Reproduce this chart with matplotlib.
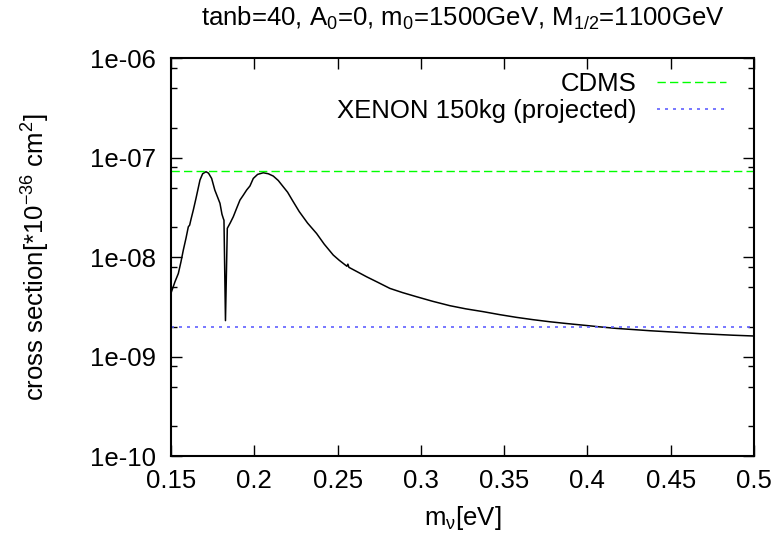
import numpy as np
import matplotlib
matplotlib.use('Agg')
import matplotlib.pyplot as plt
from matplotlib.ticker import FixedLocator, FuncFormatter, NullFormatter

# fonts: Arial-like everywhere, mathtext too (subscripts / superscripts)
plt.rcParams['font.family'] = ['Liberation Sans', 'DejaVu Sans']
plt.rcParams['mathtext.fontset'] = 'custom'
plt.rcParams['mathtext.rm'] = 'Liberation Sans'
plt.rcParams['mathtext.it'] = 'Liberation Sans'
plt.rcParams['mathtext.default'] = 'regular'
FS = 18.5

# neutrino mass [eV] and cross section [10^-36 cm^2]
m_nu = [0.1500, 0.1524, 0.1544, 0.1560, 0.1574, 0.1590, 0.1604, 0.1612,
        0.1620, 0.1634, 0.1650, 0.1674, 0.1690, 0.1710, 0.1725, 0.1744,
        0.1763, 0.1780, 0.1794, 0.1806, 0.1814, 0.1818, 0.1827, 0.1838,
        0.1855, 0.1874, 0.1894, 0.1914, 0.1934, 0.1954, 0.1974, 0.1994,
        0.2020, 0.2054, 0.2084, 0.2114, 0.2144, 0.2174, 0.2200, 0.2230,
        0.2270, 0.2320, 0.2374, 0.2420, 0.2474, 0.2510, 0.2556, 0.2562,
        0.2568, 0.2620, 0.2674, 0.2740, 0.2814, 0.2890, 0.2974, 0.3070,
        0.3174, 0.3270, 0.3374, 0.3474, 0.3574, 0.3674, 0.3774, 0.3874,
        0.3974, 0.4074, 0.4174, 0.4274, 0.4374, 0.4474, 0.4574, 0.4674,
        0.4774, 0.4874, 0.5000]
sigma = [4.35e-9, 5.66e-9, 6.85e-9, 9.0e-9, 1.18e-8, 1.55e-8, 2.02e-8, 2.1e-8,
         2.4e-8, 2.98e-8, 3.9e-8, 5.97e-8, 6.9e-8, 7.23e-8, 7.0e-8, 6.19e-8,
         4.73e-8, 4.0e-8, 3.48e-8, 2.7e-8, 2.45e-8, 2.35e-8, 2.3e-9, 1.95e-8,
         2.2e-8, 2.55e-8, 3.1e-8, 3.75e-8, 4.2e-8, 4.73e-8, 5.2e-8, 6.19e-8,
         6.8e-8, 7.06e-8, 6.9e-8, 6.54e-8, 5.9e-8, 5.1e-8, 4.5e-8, 3.7e-8,
         2.87e-8, 2.2e-8, 1.73e-8, 1.35e-8, 1.05e-8, 9.3e-9, 8.1e-9, 8.5e-9,
         7.9e-9, 7.1e-9, 6.35e-9, 5.6e-9, 4.85e-9, 4.4e-9, 4.0e-9, 3.6e-9,
         3.25e-9, 3.02e-9, 2.83e-9, 2.64e-9, 2.48e-9, 2.35e-9, 2.24e-9, 2.15e-9,
         2.07e-9, 1.99e-9, 1.92e-9, 1.87e-9, 1.82e-9, 1.78e-9, 1.74e-9, 1.70e-9,
         1.67e-9, 1.64e-9, 1.61e-9]

# experimental limits
cdms_limit = 7.4e-8
xenon_limit = 2.0e-9

x_ticks = [0.15, 0.2, 0.25, 0.3, 0.35, 0.4, 0.45, 0.5]
x_ticklabels = ['0.15', '0.2', '0.25', '0.3', '0.35', '0.4', '0.45', '0.5']
y_ticks = [1e-10, 1e-9, 1e-8, 1e-7, 1e-6]
y_minor = [m * d for d in [1e-10, 1e-9, 1e-8, 1e-7] for m in (2, 5, 8)]

W, H = 780, 535
fig = plt.figure(figsize=(W / 100, H / 100), dpi=100)
ax = fig.add_axes([171 / W, 1 - 456 / H, 583 / W, 397.7 / H])

ax.plot(m_nu, sigma, color='black', lw=1.1)
ax.axhline(cdms_limit, color='#00ff00', lw=1.0, dashes=(6, 3), label='CDMS')
ax.axhline(xenon_limit, color='#6060ff', lw=1.2, dashes=(1.8, 3.0),
           label='XENON 150kg (projected)')

ax.set_xlim(0.15, 0.5)
ax.set_yscale('log')
ax.set_ylim(1e-10, 1e-6)

ax.xaxis.set_major_locator(FixedLocator(x_ticks))
ax.set_xticklabels(x_ticklabels)
ax.yaxis.set_major_locator(FixedLocator(y_ticks))
ax.yaxis.set_minor_locator(FixedLocator(y_minor))
ax.yaxis.set_major_formatter(FuncFormatter(lambda v, p: '%.0e' % v))
ax.yaxis.set_minor_formatter(NullFormatter())

ax.tick_params(which='both', direction='in', top=True, right=True,
               labelsize=FS, width=1)
ax.tick_params(which='major', length=8)
ax.tick_params(which='minor', length=4)
ax.tick_params(axis='x', pad=9)
ax.tick_params(axis='y', pad=11)
for s in ax.spines.values():
    s.set_linewidth(1.5)

cx = (171 + 754) / 2 / W
fig.text(cx, 1 - 26 / H, 'tanb=40, A$_0$=0, m$_0$=1500GeV, M$_{1/2}$=1100GeV',
         ha='center', va='baseline', fontsize=FS)
fig.text(cx, 1 - 525 / H, 'm$_ν$[eV]', ha='center', va='baseline', fontsize=FS)
fig.text(52 / W, 1 - 257 / H, 'cross section[*10$^{-36}$ cm$^2$]',
         rotation=90, ha='right', va='center', fontsize=FS)

ax.legend(loc='upper right', bbox_to_anchor=(726 / W, 1 - 72 / H),
          bbox_transform=fig.transFigure, frameon=False, markerfirst=False,
          fontsize=FS, handlelength=2.7, handletextpad=0.8,
          borderpad=0, borderaxespad=0, labelspacing=0.12)

fig.savefig('out.png', dpi=100)
